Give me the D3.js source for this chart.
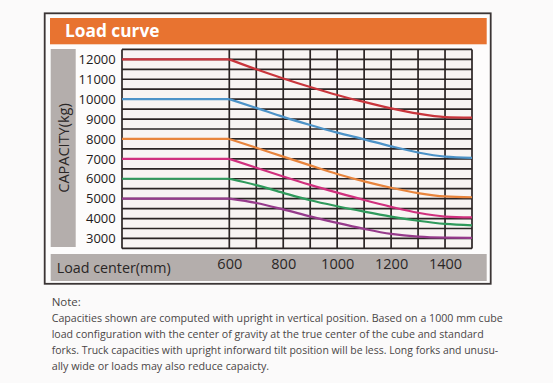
<!DOCTYPE html>
<html><head><meta charset="utf-8">
<script src="https://cdn.jsdelivr.net/npm/d3@7"></script>
<style>
html,body{margin:0;padding:0;background:#fbfafa;}
svg{display:block;}
text{font-family:"Open Sans","Noto Sans",sans-serif;}
</style></head>
<body>
<svg id="chart" width="553" height="383"></svg>
<script>
// ---- data ----
const title = "Load curve";
const yLabel = "CAPACITY(kg)";
const xLabel = "Load center(mm)";
const loadCenters = [0, 600, 700, 800, 900, 1000, 1100, 1200, 1300, 1400, 1500];
const xTickValues = [600, 800, 1000, 1200, 1400];
const yTickValues = [3000, 4000, 5000, 6000, 7000, 8000, 9000, 10000, 11000, 12000];
const red     = [12000, 12000, 11500, 11040, 10610, 10210, 9860, 9540, 9270, 9100, 9070];
const blue    = [10000, 10000, 9560, 9110, 8700, 8320, 7980, 7630, 7320, 7110, 7050];
const orange  = [8000, 8000, 7560, 7110, 6670, 6240, 5870, 5550, 5280, 5110, 5070];
const magenta = [7000, 7000, 6550, 6110, 5690, 5300, 4930, 4590, 4290, 4100, 4060];
const green   = [6000, 6000, 5680, 5290, 4920, 4620, 4350, 4100, 3890, 3730, 3660];
const purple  = [5000, 5000, 4780, 4460, 4110, 3780, 3480, 3230, 3090, 3040, 3030];
const seriesNames = ["red", "blue", "orange", "magenta", "green", "purple"];
const seriesValues = [red, blue, orange, magenta, green, purple];
const seriesColors = ["#c9353c", "#4d93c8", "#e8843c", "#d0307e", "#2f9a5c", "#963b8c"];
const noteLines = [
  "Note:",
  "Capacities shown are computed with upright in vertical position. Based on a 1000 mm cube",
  "load configuration with the center of gravity at the true center of the cube and standard",
  "forks. Truck capacities with upright inforward tilt position will be less. Long forks and unusu-",
  "ally wide or loads may also reduce capaicty."
];
const noteWidths = [0, 451, 432, 446.5, 217.5];

// ---- drawing ----
const svg = d3.select("#chart");

// outer frame
svg.append("rect").attr("x", 44.7).attr("y", 13.3).attr("width", 446).attr("height", 270.5)
  .attr("fill", "#fdfcfc").attr("stroke", "#3b3535").attr("stroke-width", 1.8);

// header
svg.append("rect").attr("x", 50).attr("y", 18).attr("width", 436.7).attr("height", 26.3).attr("fill", "#e87330");
svg.append("text").attr("x", 65).attr("y", 37).attr("fill", "#fff").attr("font-weight", "bold")
  .attr("font-size", 17.3).text(title);

// y label panel
svg.append("rect").attr("x", 50.7).attr("y", 49).attr("width", 25).attr("height", 198).attr("fill", "#b4aeac");
svg.append("text").attr("transform", "translate(68.5,148) rotate(-90)").attr("text-anchor", "middle")
  .attr("font-size", 14.5).attr("fill", "#2a2626").text(yLabel);

// x label band
svg.append("rect").attr("x", 50.7).attr("y", 254).attr("width", 436).attr("height", 27).attr("fill", "#b4aeac");
svg.append("text").attr("x", 56.7).attr("y", 272.5).attr("font-size", 14.3).attr("fill", "#2a2626").text(xLabel);

// scales
const x = d3.scaleLinear().domain([0, 600, 1500]).range([122, 229.3, 472]);
const y = d3.scaleLinear().domain([2500, 12500]).range([248.4, 49.4]);

// plot background
svg.append("rect").attr("x", x(0)).attr("y", y(12500)).attr("width", x(1500) - x(0))
  .attr("height", y(2500) - y(12500)).attr("fill", "#f8f4f3");

// gridlines
const gridColor = "#2b2424";
const hVals = d3.range(2500, 12501, 500);
svg.append("g").selectAll("line").data(hVals).join("line")
  .attr("x1", x(0)).attr("x2", x(1500)).attr("y1", d => y(d)).attr("y2", d => y(d))
  .attr("stroke", gridColor).attr("stroke-width", 1.7);
const vVals = [0].concat(d3.range(600, 1501, 100));
svg.append("g").selectAll("line").data(vVals).join("line")
  .attr("x1", d => x(d)).attr("x2", d => x(d)).attr("y1", y(12500)).attr("y2", y(2500))
  .attr("stroke", gridColor).attr("stroke-width", 1.7);

// curves
const flatLine = d3.line().x(d => x(d[0])).y(d => y(d[1]));
const curveLine = d3.line().x(d => x(d[0])).y(d => y(d[1])).curve(d3.curveMonotoneX);
seriesValues.forEach((vals, i) => {
  const pts = loadCenters.map((c, j) => [c, vals[j]]);
  svg.append("path").attr("d", flatLine(pts.slice(0, 2)))
    .attr("fill", "none").attr("stroke", seriesColors[i]).attr("stroke-width", 2.2);
  svg.append("path").attr("d", curveLine(pts.slice(1)))
    .attr("fill", "none").attr("stroke", seriesColors[i]).attr("stroke-width", 2.2);
});

// y axis tick labels
const yAxis = d3.axisLeft(y).tickValues(yTickValues).tickSize(0).tickPadding(0).tickFormat(d3.format("d"));
const gy = svg.append("g").attr("transform", "translate(115.7,0)").call(yAxis);
gy.select(".domain").remove();
gy.selectAll("text").attr("font-size", 13).attr("fill", "#1e1a1a")
  .attr("font-family", '"Open Sans","Noto Sans",sans-serif');

// x axis tick labels
const xAxis = d3.axisBottom(x).tickValues(xTickValues).tickSize(0).tickPadding(0).tickFormat(d3.format("d"));
const gx = svg.append("g").attr("transform", "translate(0,258.5)").call(xAxis);
gx.select(".domain").remove();
gx.selectAll("text").attr("font-size", 14.5).attr("fill", "#2a2626")
  .attr("font-family", '"Open Sans","Noto Sans",sans-serif');

// note
const noteY = [306, 322, 338, 354, 370];
noteLines.forEach((t, i) => {
  const tx = svg.append("text").attr("x", 51.7).attr("y", noteY[i]).attr("font-size", 11.5)
    .attr("fill", "#4a4646").text(t);
  if (noteWidths[i] > 0) tx.attr("textLength", noteWidths[i]).attr("lengthAdjust", "spacingAndGlyphs");
});
</script>
</body></html>
